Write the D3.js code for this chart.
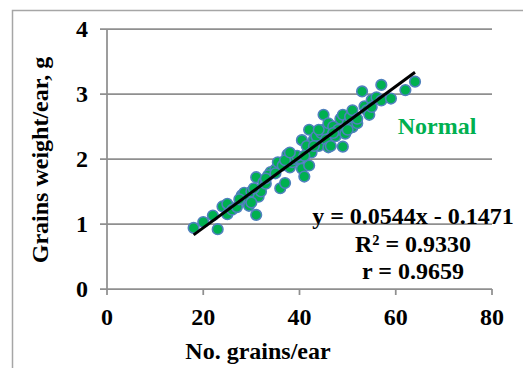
<!DOCTYPE html>
<html>
<head>
<meta charset="utf-8">
<script src="https://cdn.jsdelivr.net/npm/d3@7"></script>
<style>
  html, body { margin: 0; padding: 0; background: #fff; }
  svg { display: block; }
  text { font-family: "Liberation Serif", "Times New Roman", Times, serif; font-weight: bold; }
</style>
</head>
<body>
<svg id="chart" width="523" height="368"></svg>
<script>
// Grains per ear vs grain weight per ear (Normal treatment)
const grainsPerEar = [18, 20, 22, 23, 24, 25, 25, 26, 27, 28, 28.5, 29, 29.5, 30, 31, 31, 31.5, 32, 32.5, 33,
  34, 35, 35.5, 36, 36.5, 37, 37.5, 38, 38.5, 39, 40, 40.5, 41, 40.5, 41.5, 42, 42, 42.5, 43, 43.5,
  44, 44.5, 45, 45, 45.5, 46, 46, 46.5, 47, 47.5, 48, 48.5, 49, 49, 49.5, 50, 50.5, 51, 51, 52,
  53, 53.5, 54, 54.5, 55, 56, 57, 57, 59, 62, 64, 33.5, 30, 27.5, 39.5, 44,
  30.5, 33, 35, 37, 38, 41, 43, 47, 50, 52, 55];
const grainWeight = [0.94, 1.03, 1.13, 0.92, 1.27, 1.31, 1.15, 1.22, 1.26, 1.44, 1.48, 1.35, 1.28, 1.50, 1.72, 1.14, 1.42, 1.50, 1.64, 1.62,
  1.80, 1.84, 1.95, 1.55, 1.90, 1.63, 2.07, 1.87, 1.95, 2.00, 2.01, 1.85, 1.73, 2.29, 2.20, 2.45, 1.90, 2.10, 2.30, 2.35,
  2.20, 2.40, 2.68, 2.45, 2.30, 2.18, 2.55, 2.20, 2.50, 2.35, 2.45, 2.62, 2.19, 2.68, 2.39, 2.55, 2.65, 2.75, 2.49, 2.55,
  3.04, 2.81, 2.75, 2.68, 2.91, 2.95, 3.14, 2.90, 2.93, 3.06, 3.19, 1.75, 1.33, 1.38, 2.05, 2.45,
  1.55, 1.70, 1.78, 1.98, 2.10, 2.05, 2.20, 2.40, 2.45, 2.62, 2.80];

const xTicks = [0, 20, 40, 60, 80];
const yTicks = [0, 1, 2, 3, 4];

// Linear fit reported on the chart
const slope = 0.0544;
const intercept = -0.1471;
const fitRange = [18, 64];
const fitLabels = ["y = 0.0544x - 0.1471", "R\u00B2 = 0.9330", "r = 0.9659"];
const seriesLabel = "Normal";

const svg = d3.select("#chart");
const x = d3.scaleLinear().domain([0, 80]).range([107, 492]);
const y = d3.scaleLinear().domain([0, 4]).range([289, 29]);
const gridColor = "#8f8f8f";
const fontSize = 24;

// outer chart frame
svg.append("rect")
  .attr("x", 12.5).attr("y", 10.5)
  .attr("width", 530).attr("height", 380)
  .attr("fill", "none").attr("stroke", "#a6a6a6").attr("stroke-width", 1.5);

// horizontal gridlines (extend left as tick marks)
svg.append("g").selectAll("line").data(yTicks).join("line")
  .attr("x1", x(0) - 7).attr("x2", x(80))
  .attr("y1", d => y(d)).attr("y2", d => y(d))
  .attr("stroke", gridColor).attr("stroke-width", 1.75);

// y axis line
svg.append("line")
  .attr("x1", x(0)).attr("x2", x(0)).attr("y1", y(4)).attr("y2", y(0))
  .attr("stroke", gridColor).attr("stroke-width", 1.75);

// x axis ticks
svg.append("g").selectAll("line").data(xTicks).join("line")
  .attr("x1", d => x(d)).attr("x2", d => x(d))
  .attr("y1", y(0)).attr("y2", y(0) + 6)
  .attr("stroke", gridColor).attr("stroke-width", 1.75);

// tick labels
svg.append("g").selectAll("text").data(yTicks).join("text")
  .attr("x", 88).attr("y", d => y(d) + 7.5)
  .attr("text-anchor", "end").attr("font-size", fontSize).attr("fill", "#000")
  .text(d => d);
svg.append("g").selectAll("text").data(xTicks).join("text")
  .attr("x", d => x(d)).attr("y", 325)
  .attr("text-anchor", "middle").attr("font-size", fontSize).attr("fill", "#000")
  .text(d => d);

// axis titles
svg.append("text")
  .attr("transform", "translate(48,160) rotate(-90)")
  .attr("text-anchor", "middle").attr("font-size", fontSize).attr("fill", "#000")
  .text("Grains weight/ear, g");
svg.append("text")
  .attr("x", 258).attr("y", 359)
  .attr("text-anchor", "middle").attr("font-size", fontSize).attr("fill", "#000")
  .text("No. grains/ear");

// data points
const pts = grainsPerEar.map((g, i) => [g, grainWeight[i]]);
svg.append("g").selectAll("circle").data(pts).join("circle")
  .attr("cx", d => x(d[0])).attr("cy", d => y(d[1]))
  .attr("r", 5.3)
  .attr("fill", "#00B050").attr("stroke", "#4F81BD").attr("stroke-width", 1.6);

// trend line
svg.append("line")
  .attr("x1", x(fitRange[0])).attr("y1", y(slope * fitRange[0] + intercept))
  .attr("x2", x(fitRange[1])).attr("y2", y(slope * fitRange[1] + intercept))
  .attr("stroke", "#000").attr("stroke-width", 3);

// series label
svg.append("text")
  .attr("x", 437).attr("y", 134)
  .attr("text-anchor", "middle").attr("font-size", fontSize).attr("fill", "#00B050")
  .text(seriesLabel);

// regression annotation
const fitY = [224, 252, 279];
svg.append("g").selectAll("text").data(fitLabels).join("text")
  .attr("x", 413).attr("y", (d, i) => fitY[i])
  .attr("text-anchor", "middle").attr("font-size", fontSize).attr("fill", "#000")
  .text(d => d);
</script>
</body>
</html>
